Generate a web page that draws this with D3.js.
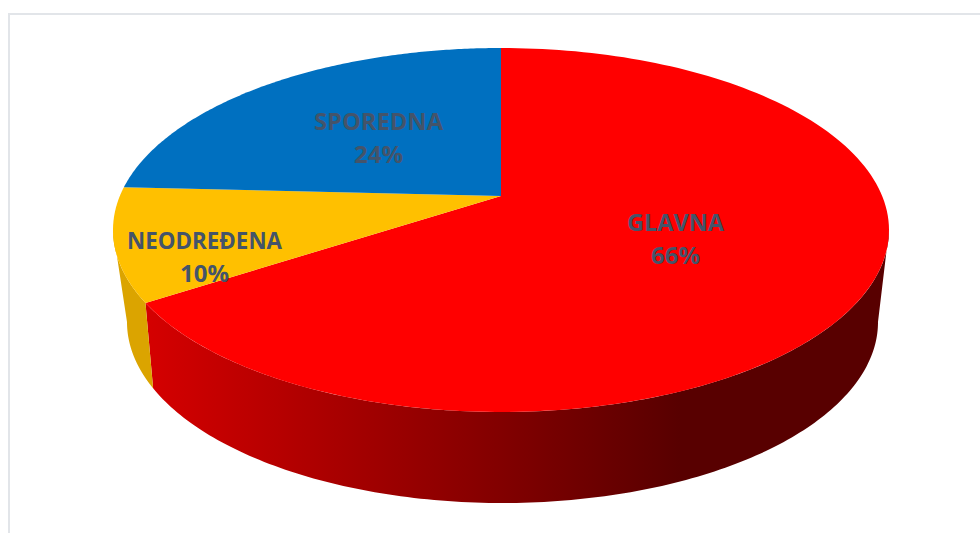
<!DOCTYPE html>
<html><head><meta charset="utf-8">
<style>html,body{margin:0;padding:0;background:#fff;overflow:hidden}svg{display:block}</style>
<script src="https://cdn.jsdelivr.net/npm/d3@7/dist/d3.min.js"></script></head>
<body><svg id="c" width="980" height="533"></svg>
<script>
const categories = ["GLAVNA","NEODREĐENA","SPOREDNA"];
const values = [65.8,10,24.2];
const labels = ["66%","10%","24%"];
const topColors = ["#FF0000","#FFC000","#0070C0"];
const labelPos = [[675.5,223,256],[204.5,241,274],[378.5,122,155]];
const nameWidths = [97,155,129];
const pctWidths = [49,49,49];

const svg = d3.select("#c");
const W=980,H=533;
svg.append("path").attr("d",`M9,${H}V14H${W}`).attr("fill","none").attr("stroke","#E2E5E9").attr("stroke-width",2);

const topE={cx:501,cy:230,rx:388,ry:182,a:-34/182};
const botE={cx:502.5,cy:322,rx:375.5,ry:181,a:-0.225};
function rim(E,t){
  const a=E.a, k=Math.sqrt(1-a*a);
  const x=Math.sin(t), y=-Math.cos(t), d=1+a*y;
  return [E.cx+E.rx*x*k/d, E.cy+E.ry*(y+a)/d];
}
const apex=[topE.cx,topE.cy+topE.ry*topE.a];
const arcs=d3.pie().sort(null).value(d=>d)(values);
const line=d3.line();
const steps=(t0,t1,n=160)=>d3.range(n+1).map(i=>t0+(t1-t0)*i/n);

const defs=svg.append("defs");
const grad=defs.append("linearGradient").attr("id","wall").attr("gradientUnits","userSpaceOnUse")
  .attr("x1",150).attr("x2",680).attr("y1",0).attr("y2",0);
grad.append("stop").attr("offset",0).attr("stop-color","#D40000");
grad.append("stop").attr("offset",1).attr("stop-color","#580000");

const right=E=>Math.acos(E.a), left=E=>2*Math.PI-Math.acos(E.a);
function wall(t0,t1,b0,b1){
  return line([...steps(t0,t1).map(t=>rim(topE,t)),...steps(b1,b0).map(t=>rim(botE,t))])+"Z";
}
const seam=arcs[0].endAngle;
svg.append("path").attr("d",wall(right(topE),seam,right(botE),seam)).attr("fill","url(#wall)");
svg.append("path").attr("d",wall(seam,left(topE),seam,left(botE))).attr("fill","#DBA400");

arcs.forEach((d,i)=>{
  const pts=steps(d.startAngle,d.endAngle).map(t=>rim(topE,t));
  svg.append("path").attr("d",line([apex,...pts])+"Z").attr("fill",topColors[i]);
});

categories.forEach((c,i)=>{
  const g=svg.append("g").attr("font-family","'Open Sans',sans-serif").attr("font-weight",700)
    .attr("font-size",23).attr("fill","#44546A").attr("text-anchor","middle");
  g.append("text").attr("x",labelPos[i][0]).attr("y",labelPos[i][1]+8)
    .attr("textLength",nameWidths[i]).attr("lengthAdjust","spacingAndGlyphs").text(c);
  g.append("text").attr("x",labelPos[i][0]).attr("y",labelPos[i][2]+8)
    .attr("textLength",pctWidths[i]).attr("lengthAdjust","spacingAndGlyphs").text(labels[i]);
});
</script></body></html>
